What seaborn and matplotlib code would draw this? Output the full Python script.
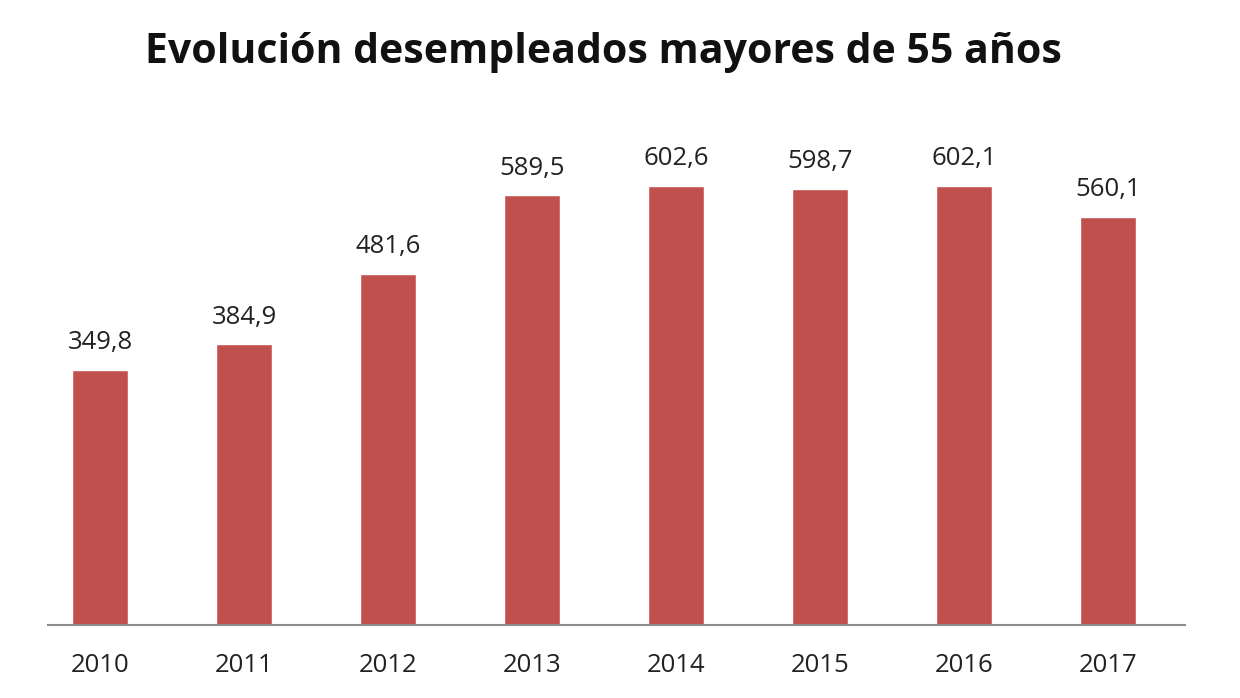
import matplotlib
matplotlib.use("Agg")
import matplotlib.pyplot as plt
import seaborn as sns
import pandas as pd

years = ["2010", "2011", "2012", "2013", "2014", "2015", "2016", "2017"]
values = [349.8, 384.9, 481.6, 589.5, 602.6, 598.7, 602.1, 560.1]
labels = ["349,8", "384,9", "481,6", "589,5", "602,6", "598,7", "602,1", "560,1"]
title = "Evolución desempleados mayores de 55 años"

sns.set_theme(style="white")
plt.rcParams['font.family'] = ['Open Sans', 'DejaVu Sans']

df = pd.DataFrame({"year": years, "value": values})

fig = plt.figure(figsize=(12.4, 6.98), dpi=100)
ax = fig.add_axes([48/1240, (698-625)/698, (1185-48)/1240, (625-130)/698])

sns.barplot(data=df, x="year", y="value", color="#C0504D", saturation=1,
            width=0.39, ax=ax)

ax.set_xlim(-0.361, 7.535)
ax.set_ylim(0, 679)
for i, (v, lab) in enumerate(zip(values, labels)):
    ax.text(i, v + 20, lab, ha="center", va="bottom", fontsize=18.5, color="#222222")

for s in ["top", "right", "left"]:
    ax.spines[s].set_visible(False)
ax.spines["bottom"].set_color("#8c8c8c")
ax.spines["bottom"].set_linewidth(1.5)
ax.set_yticks([])
ax.set_xlabel("")
ax.set_ylabel("")
ax.tick_params(axis="x", length=0, pad=20, labelsize=18.5, labelcolor="#222222")

fig.text(0.487, 0.925, title, ha="center", va="center", fontsize=29.5,
         fontweight="bold", color="#111111")

fig.savefig("out.png", dpi=100, facecolor="white")
